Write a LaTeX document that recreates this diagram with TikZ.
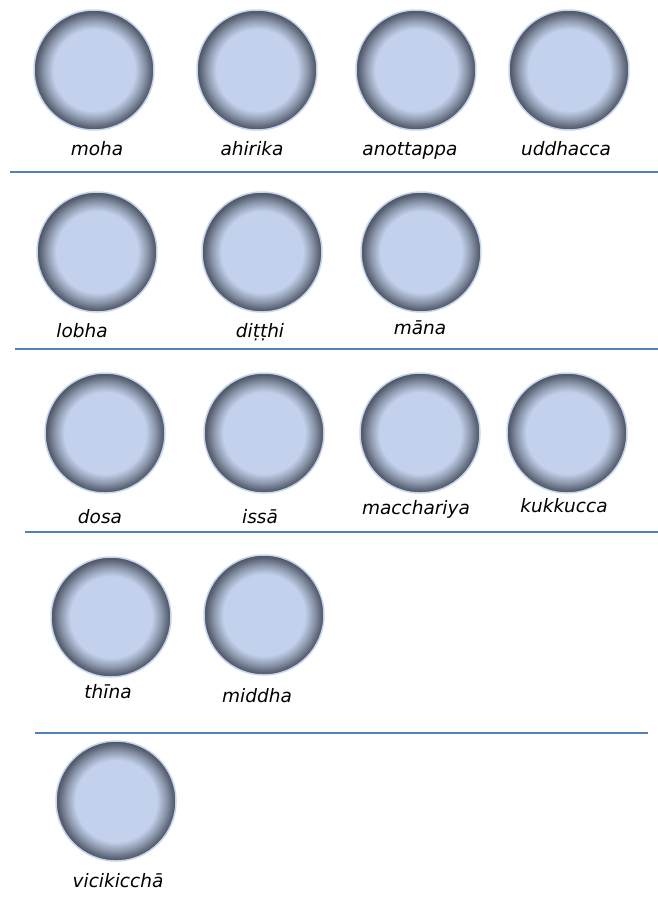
\documentclass[tikz,border=0pt]{standalone}
\usepackage{fontspec}
\setmainfont{DejaVu Sans}
\usepackage{tikz}
\definecolor{beadin}{HTML}{C3D1EC}
\definecolor{beadmid}{HTML}{8A95AA}
\definecolor{beadout}{HTML}{535B6B}
\definecolor{beadrim}{HTML}{C6D6F0}
\definecolor{rulecol}{HTML}{4F81BD}
\pgfdeclareradialshading{beadshade}{\pgfpoint{0bp}{0bp}}{color(0bp)=(beadin); color(17bp)=(beadin); color(21bp)=(beadmid); color(24.3bp)=(beadout); color(25bp)=(beadout); color(50bp)=(beadout)}
\tikzset{
    bead/.style={circle, minimum size=120pt, inner sep=0pt, shade, shading=beadshade, draw=beadrim, line width=1.5pt},
    beadlabel/.style={anchor=base, inner sep=0pt, font=\fontsize{18.5}{20}\selectfont\itshape},
    divider/.style={draw=rulecol, line width=2.2pt}
}

\begin{document}
\begin{tikzpicture}[x=1pt,y=-1pt]
    \fill[white] (0,0) rectangle (658,898);
    \useasboundingbox (0,0) rectangle (658,898);

    % first row
    \node[bead] (moha)      at (94,70)  {};
    \node[bead] (ahirika)   at (257,70) {};
    \node[bead] (anottappa) at (416,70) {};
    \node[bead] (uddhacca)  at (569,70) {};
    \node[beadlabel] (mohal)      at (97,155)  {moha};
    \node[beadlabel] (ahirikal)   at (252,155) {ahirika};
    \node[beadlabel] (anottappal) at (410,155) {anottappa};
    \node[beadlabel] (uddhaccal)  at (566,155) {uddhacca};
    \draw[divider] (10,172) -- (658,172);

    % second row
    \node[bead] (lobha)  at (97,252)  {};
    \node[bead] (ditthi) at (262,252) {};
    \node[bead] (mana)   at (421,252) {};
    \node[beadlabel] (lobhal)  at (82,337)  {lobha};
    \node[beadlabel] (ditthil) at (260,337) {diṭṭhi};
    \node[beadlabel] (manal)   at (420,334) {māna};
    \draw[divider] (15,349) -- (658,349);

    % third row
    \node[bead] (dosa)       at (105,433) {};
    \node[bead] (issa)       at (264,433) {};
    \node[bead] (macchariya) at (420,433) {};
    \node[bead] (kukkucca)   at (567,433) {};
    \node[beadlabel] (dosal)       at (100,523) {dosa};
    \node[beadlabel] (issal)       at (260,523) {issā};
    \node[beadlabel] (macchariyal) at (416,514) {macchariya};
    \node[beadlabel] (kukkuccal)   at (564,512) {kukkucca};
    \draw[divider] (25,532) -- (658,532);

    % fourth row
    \node[bead] (thina)   at (111,617) {};
    \node[bead] (middha)  at (264,615) {};
    \node[beadlabel] (thinal)  at (108,698) {thīna};
    \node[beadlabel] (middhal) at (257,702) {middha};
    \draw[divider] (35,733) -- (648,733);

    % last row
    \node[bead] (vicikiccha) at (116,801) {};
    \node[beadlabel] (vicikicchal) at (118,887) {vicikicchā};
\end{tikzpicture}
\end{document}
